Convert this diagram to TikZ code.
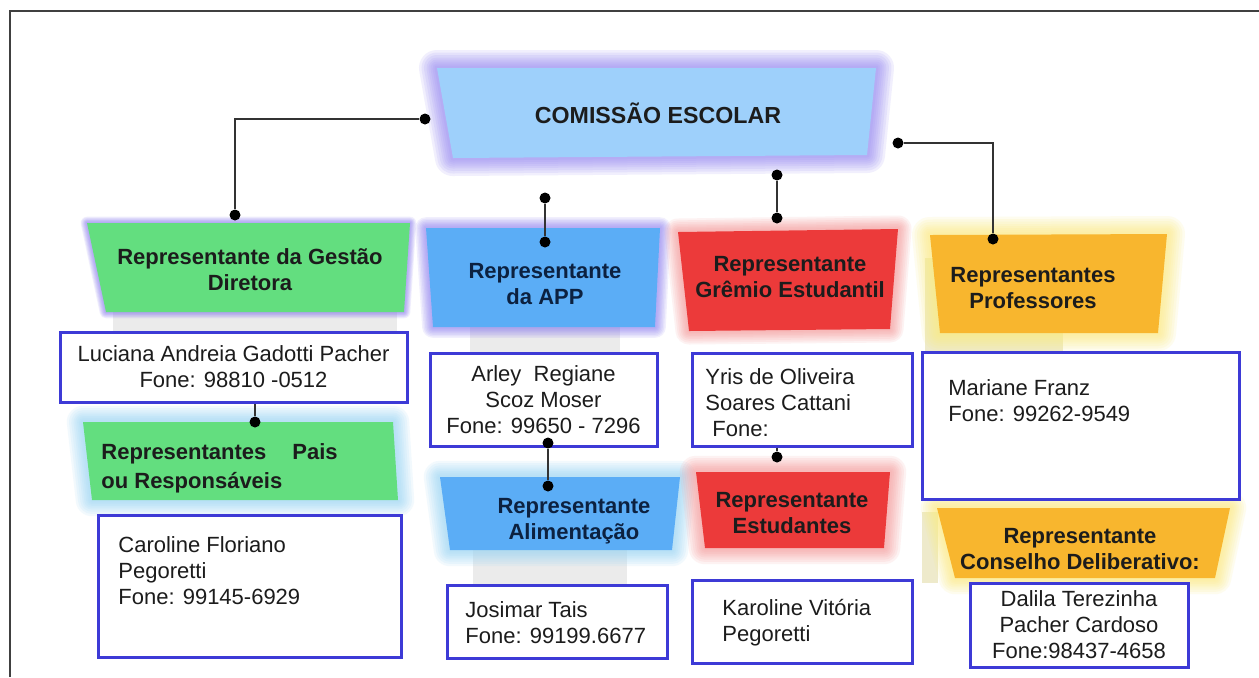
\documentclass[tikz,border=0pt]{standalone}
\usepackage{fontspec}
\setmainfont{Liberation Sans}
\usetikzlibrary{calc}
\definecolor{comfill}{HTML}{9ED0FB}
\definecolor{violetglow}{HTML}{9486F2}
\definecolor{greenfill}{HTML}{63DE7F}
\definecolor{bluefill}{HTML}{5BADF6}
\definecolor{lightblueglow}{HTML}{9CD6F6}
\definecolor{redfill}{HTML}{EC3A3A}
\definecolor{pinkglow}{HTML}{F79C9C}
\definecolor{orangefill}{HTML}{F8B62E}
\definecolor{yellowglow}{HTML}{FCEB7E}
\definecolor{pbline}{HTML}{3D3AD6}
\definecolor{txt}{HTML}{1C1C1C}
\definecolor{navy}{HTML}{0C2140}
\definecolor{beige}{HTML}{EEEACB}
\newcommand{\glowtrap}[7]{%
  \foreach \w in {36,31,26,21,17,13,9,5}{%
    \draw[draw=#2, line width=#7*\w*0.5pt, opacity=0.13, line join=round] #3 -- #4 -- #5 -- #6 -- cycle;}
  \fill[#1] #3 -- #4 -- #5 -- #6 -- cycle;}
\tikzset{
  hdr/.style={font=\bfseries\fontsize{11}{13}\selectfont, text=txt, align=center, inner sep=0pt},
  pbox/.style={draw=pbline, line width=1.5pt, fill=white, inner sep=0pt, text=txt,
               font=\fontsize{11}{13}\selectfont, align=center},
  ptext/.style={text=txt, font=\fontsize{11}{13}\selectfont, align=left, inner sep=0pt, anchor=west},
  dot/.style={circle, fill=black, inner sep=0pt, minimum size=5.5pt},
  conn/.style={draw=black!80, line width=1pt}
}
\begin{document}
\begin{tikzpicture}[x=0.5pt,y=-0.5pt]
\useasboundingbox (0,0) rectangle (1259,677);
\fill[white] (0,0) rectangle (1259,677);
\draw[line width=1pt, black!75] (10,677) -- (10,11) -- (1259,11);

% soft reflections
\fill[black!8] (113,312) rectangle (397,333);
\fill[black!8] (470,326) rectangle (620,352);
\fill[black!8] (473,550) rectangle (627,585);
\fill[beige] (925,258) rectangle (941,352);
\fill[beige] (930,333) rectangle (1063,351);
\fill[beige] (922,512) rectangle (938,583);

% header shapes
\glowtrap{comfill}{violetglow}{(437,68)}{(876,68)}{(867,155)}{(453,158)}{1.0}
\glowtrap{greenfill}{violetglow}{(87,223)}{(410,223)}{(404,312)}{(106,312)}{0.35}
\glowtrap{bluefill}{violetglow}{(426,228)}{(660,228)}{(655,327)}{(433,327)}{0.6}
\glowtrap{redfill}{pinkglow}{(678,232)}{(898,229)}{(890,329)}{(689,331)}{0.75}
\glowtrap{orangefill}{yellowglow}{(930,235)}{(1167,234)}{(1158,333)}{(940,333)}{1.0}
\glowtrap{greenfill}{lightblueglow}{(83,422)}{(393,422)}{(398,500)}{(92,500)}{0.9}
\glowtrap{bluefill}{lightblueglow}{(440,477)}{(680,477)}{(672,550)}{(450,550)}{0.9}
\glowtrap{redfill}{pinkglow}{(696,472)}{(890,472)}{(884,548)}{(705,548)}{0.9}
\glowtrap{orangefill}{yellowglow}{(937,508)}{(1230,508)}{(1215,578)}{(955,578)}{0.9}

% header texts
\node[hdr, font=\bfseries\fontsize{11.6}{14}\selectfont] (com) at (658,113) {COMISSÃO ESCOLAR};
\node[hdr] (gest) at (250,270) {Representante da Gestão\\Diretora};
\node[hdr, text=navy] (app) at (545,284) {Representante\\da APP};
\node[hdr] (grem) at (790,277) {Representante\\Grêmio Estudantil};
\node[hdr] (prof) at (1033,288) {Representantes\\Professores};
\node[hdr, align=left, anchor=west, font=\bfseries\fontsize{11}{14.5}\selectfont] (pais) at (101,468) {Representantes\hspace{13pt}Pais\\ou Responsáveis};
\node[hdr, text=navy] (alim) at (574,521) {Representante\\Alimentação};
\node[hdr] (est) at (792,513) {Representante\\Estudantes};
\node[hdr] (cons) at (1080,549) {Representante\\Conselho Deliberativo:};

% person boxes
\node[pbox, minimum width=173.5pt, minimum height=35pt] (luc) at (233.5,367) {Luciana Andreia Gadotti Pacher\\Fone: 98810 -0512};
\node[pbox, minimum width=151.5pt, minimum height=71pt] (car) at (249.5,586) {};
\node[ptext] (cart) at (118,571) {Caroline Floriano\\Pegoretti\\Fone: 99145-6929};
\node[pbox, minimum width=113.5pt, minimum height=46.5pt] (arl) at (543.5,399.5) {Arley\ \ Regiane\\Scoz Moser\\Fone: 99650 - 7296};
\node[pbox, minimum width=110pt, minimum height=46.5pt] (yris) at (802,399.5) {};
\node[ptext] (yrist) at (705,403) {Yris de Oliveira\\Soares Cattani\\\hspace*{3.5pt}Fone:};
\node[pbox, minimum width=158.5pt, minimum height=73.5pt] (mar) at (1080.5,425.5) {};
\node[ptext] (mart) at (948,401) {Mariane Franz\\Fone: 99262-9549};
\node[pbox, minimum width=110pt, minimum height=36.5pt] (jos) at (557,621.5) {};
\node[ptext] (jost) at (465,623) {Josimar Tais\\Fone: 99199.6677};
\node[pbox, minimum width=110pt, minimum height=41.5pt] (kar) at (802,621.5) {};
\node[ptext] (kart) at (722,623) {Karoline Vitória\\Pegoretti};
\node[pbox, minimum width=109pt, minimum height=42pt] (dal) at (1079,625) {Dalila Terezinha\\Pacher Cardoso\\Fone:98437-4658};

% dots
\node[dot] (d1) at (425,119) {};
\node[dot] (d2) at (235,215) {};
\node[dot] (d3) at (898,143) {};
\node[dot] (d4) at (993,239) {};
\node[dot] (d5) at (545,198) {};
\node[dot] (d6) at (545,242) {};
\node[dot] (d7) at (777,175) {};
\node[dot] (d8) at (777,218) {};
\node[dot] (d9) at (255,422) {};
\node[dot] (d10) at (548,443) {};
\node[dot] (d11) at (548,486) {};
\node[dot] (d12) at (777,457) {};

% connectors
\draw[conn] (d1) -| (d2);
\draw[conn] (d3) -| (d4);
\draw[conn] (d5) -- (d6);
\draw[conn] (d7) -- (d8);
\draw[conn] (luc.south -| d9) -- (d9);
\draw[conn] (d10) -- (d11);
\draw[conn] (yris.south -| d12) -- (d12);
\end{tikzpicture}
\end{document}
